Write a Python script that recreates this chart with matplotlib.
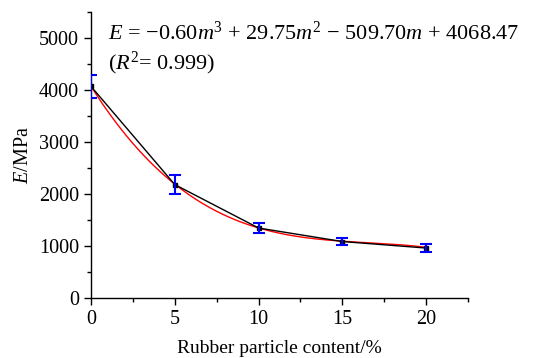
import numpy as np
import matplotlib
matplotlib.use("Agg")
import matplotlib.pyplot as plt

content = [0, 5, 10, 15, 20]
modulus = [4068, 2180, 1345, 1085, 960]
err = [220, 180, 100, 75, 75]
fit_coef = [-0.60, 29.75, -509.70, 4068.47]

plt.rcParams['font.family'] = ['Liberation Serif']
plt.rcParams['mathtext.fontset'] = 'custom'
plt.rcParams['mathtext.rm'] = 'Liberation Serif'
plt.rcParams['mathtext.it'] = 'Liberation Serif:italic'

fig = plt.figure(figsize=(5.39, 3.58), dpi=100)
ax = fig.add_axes([0.1688, 0.1676, 0.6995, 0.7994])

m = np.linspace(0, 20, 300)
ax.plot(m, np.polyval(fit_coef, m), color='red', lw=1.0, zorder=2)
ax.plot(content, modulus, color='black', lw=1.0, zorder=3,
        marker='s', ms=3, mfc='black', mec='black')
ax.errorbar(content, modulus, yerr=err, fmt='none', ecolor='blue',
            elinewidth=1.5, capsize=4, capthick=1.5, zorder=4)

ax.set_xlim(0, 22.5)
ax.set_ylim(0, 5500)
ax.set_xticks([0, 5, 10, 15, 20])
ax.set_yticks([0, 1000, 2000, 3000, 4000, 5000])
ax.set_xticks(np.arange(0, 22.6, 2.5), minor=True)
ax.set_yticks(np.arange(0, 5501, 500), minor=True)
for s in ['top', 'right']:
    ax.spines[s].set_visible(False)
for s in ['left', 'bottom']:
    ax.spines[s].set_linewidth(1.0)
ax.tick_params(which='major', direction='out', length=5, width=1, labelsize=14.5)
ax.tick_params(which='minor', direction='out', length=3, width=1)

ax.set_xlabel('Rubber particle content/%', fontsize=14, labelpad=8)
ax.set_ylabel('$E$/MPa', fontsize=14.5, labelpad=4)

ax.text(0.045, 0.926,
        r'$E$ = $-$0.60$m^3$ + 29.75$m^2$ $-$ 509.70$m$ + 4068.47',
        transform=ax.transAxes, fontsize=16, va='center', ha='left')
ax.text(0.045, 0.821, r'($R^2$= 0.999)',
        transform=ax.transAxes, fontsize=16, va='center', ha='left')

fig.savefig('out.png', dpi=100)
